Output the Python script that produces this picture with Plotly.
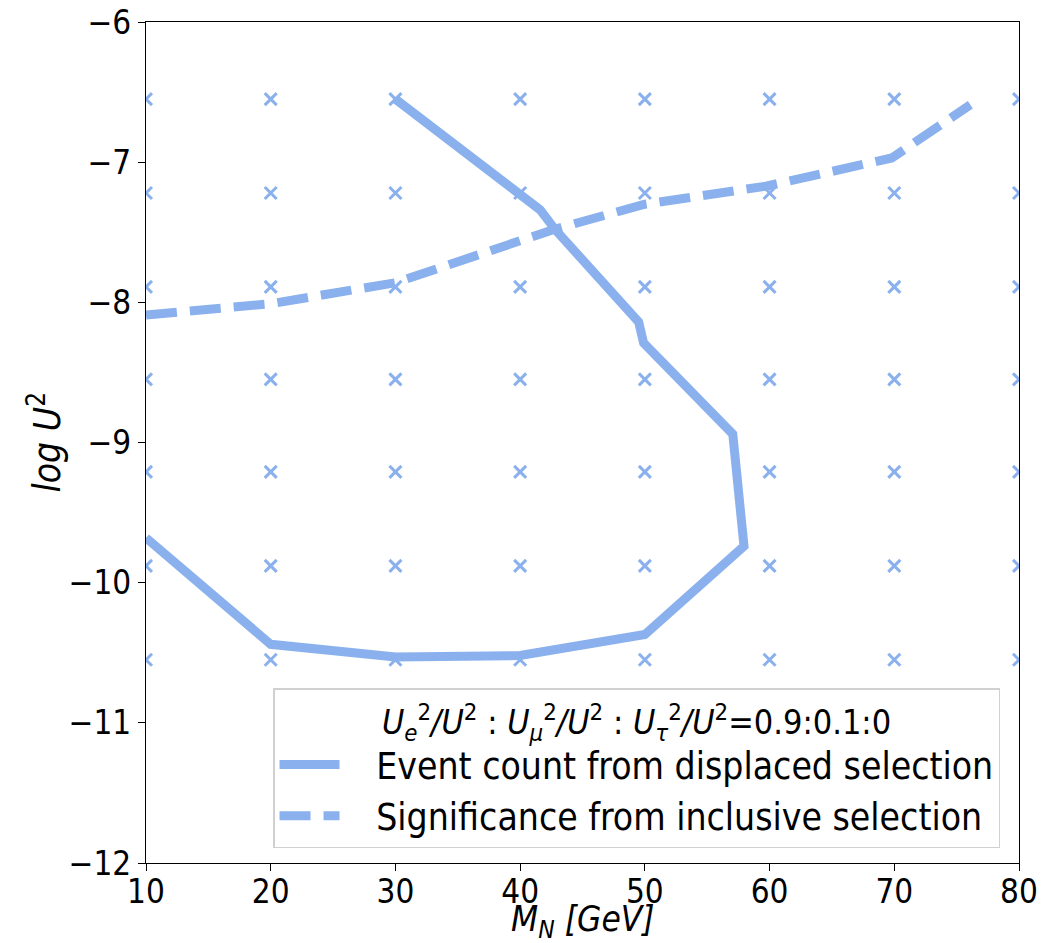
import numpy as np
import plotly.graph_objects as go

# scan grid (mass points and log U^2 points)
grid_mass = [10, 20, 30, 40, 50, 60, 70, 80]
grid_logu2 = [-6.55, -7.22, -7.89, -8.55, -9.21, -9.88, -10.55]

# displaced selection event-count contour
disp_mass = [30.0, 40.0, 41.6, 42.8, 49.5, 49.9, 57.05, 57.95, 50.0, 40.0, 30.0, 20.0, 11.2, 10.0]
disp_logu2 = [-6.55, -7.22, -7.34, -7.48, -8.14, -8.29, -8.94, -9.74, -10.37, -10.52, -10.53, -10.44, -9.76, -9.68]

# inclusive selection significance contour
incl_mass = [10.0, 20.0, 30.0, 42.7, 50.0, 59.8, 69.8, 76.1]
incl_logu2 = [-8.09, -8.01, -7.86, -7.48, -7.30, -7.17, -6.97, -6.59]

x_title = "<i>M</i><sub><i>N</i></sub><i> [GeV]</i>"
y_title = "<i>log U</i><sup>2</sup>"
legend_title = ("<i>U</i><sub><i>e</i></sub><sup>2</sup><i>/U</i><sup>2</sup> : "
                "<i>U</i><sub><i>μ</i></sub><sup>2</sup><i>/U</i><sup>2</sup> : "
                "<i>U</i><sub><i>τ</i></sub><sup>2</sup><i>/U</i><sup>2</sup>=0.9:0.1:0")

color = "#8ab1ed"
font_family = "DejaVu Sans Condensed, DejaVu Sans"
pad = "\u00a0\u00a0\u00a0"

gx, gy = np.meshgrid(grid_mass, grid_logu2)

fig = go.Figure()
fig.add_trace(go.Scatter(
    x=gx.ravel(), y=gy.ravel(), mode="markers",
    marker=dict(symbol="x-thin", size=12, line=dict(color=color, width=3), color=color),
    showlegend=False, hoverinfo="skip"))
fig.add_trace(go.Scatter(
    x=disp_mass, y=disp_logu2, mode="lines",
    line=dict(color=color, width=9),
    name=pad + "Event count from displaced selection"))
fig.add_trace(go.Scatter(
    x=incl_mass, y=incl_logu2, mode="lines",
    line=dict(color=color, width=9, dash="31px,13px"),
    name=pad + "Significance from inclusive selection"))

axis_common = dict(
    showline=True, linecolor="black", linewidth=1.3, mirror=True,
    ticks="outside", ticklen=7, tickwidth=1.3, tickcolor="black",
    showgrid=False, zeroline=False, automargin=False,
    tickfont=dict(family=font_family, size=33, color="black"),
)

fig.update_layout(
    width=1061, height=943,
    margin=dict(l=146, r=42, t=22, b=80),
    paper_bgcolor="white", plot_bgcolor="white",
    font=dict(family=font_family, color="black"),
    xaxis=dict(range=[10, 80], dtick=10, tick0=10, ticklabelstandoff=-8, **axis_common),
    yaxis=dict(range=[-12, -6], dtick=1, **axis_common),
    legend=dict(
        x=0.1455, y=0.0175, xanchor="left", yanchor="bottom",
        bgcolor="rgba(255,255,255,0.8)", bordercolor="#d0d0d0", borderwidth=1.5,
        font=dict(family=font_family, size=37, color="black"),
        title=dict(text=legend_title, side="top center",
                   font=dict(family=font_family, size=34, color="black")),
        itemwidth=60,
        tracegroupgap=0,
    ),
    annotations=[
        dict(text=x_title, xref="paper", yref="paper", x=0.5, y=0,
             xanchor="center", yanchor="bottom", yshift=-83, showarrow=False,
             font=dict(family=font_family, size=35, color="black")),
        dict(text=y_title, xref="paper", yref="paper", x=0, y=0.5,
             xanchor="center", yanchor="middle", xshift=-101, textangle=-90,
             showarrow=False,
             font=dict(family=font_family, size=37, color="black")),
    ],
)

fig.write_html("out.html")
